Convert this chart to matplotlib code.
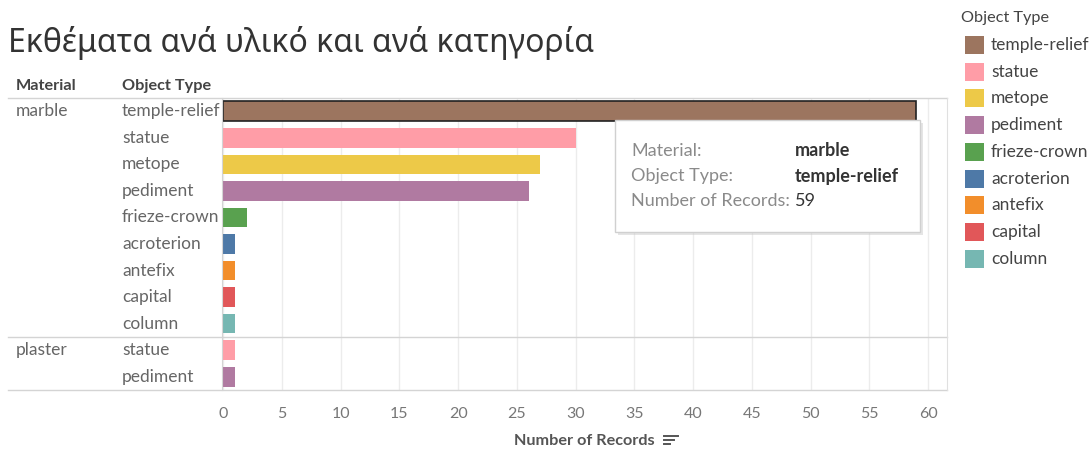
import matplotlib.pyplot as plt
from matplotlib.patches import Rectangle
from matplotlib.lines import Line2D
from matplotlib.transforms import blended_transform_factory

plt.rcParams['font.family'] = ['Lato', 'Noto Sans', 'DejaVu Sans']

# data
materials = ['marble'] * 9 + ['plaster'] * 2
object_types = ['temple-relief', 'statue', 'metope', 'pediment', 'frieze-crown',
                'acroterion', 'antefix', 'capital', 'column', 'statue', 'pediment']
records = [59, 30, 27, 26, 2, 1, 1, 1, 1, 1, 1]

legend_types = ['temple-relief', 'statue', 'metope', 'pediment', 'frieze-crown',
                'acroterion', 'antefix', 'capital', 'column']
type_colors = {
    'temple-relief': '#9C755F', 'statue': '#FF9DA7', 'metope': '#EDC948',
    'pediment': '#B07AA1', 'frieze-crown': '#59A14F', 'acroterion': '#4E79A7',
    'antefix': '#F28E2B', 'capital': '#E15759', 'column': '#76B7B2',
}

W, H = 1091, 450
fig = plt.figure(figsize=(W / 100, H / 100), dpi=100)
ax = fig.add_axes([222 / W, 1 - 390 / H, (947 - 222) / W, (390 - 98) / H])

ypos = list(range(len(records)))
colors = [type_colors[t] for t in object_types]
bars = ax.barh(ypos, records, height=0.74, color=colors)
bars[0].set_edgecolor('#222222')
bars[0].set_linewidth(1.2)

ax.set_xlim(-0.1, 61.6)
ax.set_ylim(len(records) - 0.5, -0.5)
ax.set_xticks(range(0, 61, 5))
ax.tick_params(axis='x', length=0, pad=12, labelsize=11.5, labelcolor='#777777')
ax.set_yticks([])
ax.grid(axis='x', color='#ececec', linewidth=1)
ax.set_axisbelow(True)
for s in ['top', 'bottom']:
    ax.spines[s].set_visible(False)
ax.spines['left'].set_color('#d4d4d4')
ax.spines['right'].set_color('#e0e0e0')

# row separators spanning header columns
x0 = -(222 - 8) / (947 - 222)
for y in [-0.5, 8.5, 10.5]:
    ax.axhline(y, xmin=x0, xmax=1, color='#d4d4d4', linewidth=1, clip_on=False)

# row headers
row_tr = blended_transform_factory(fig.transFigure, ax.transData)
prev = None
for i, (m, t) in enumerate(zip(materials, object_types)):
    ax.text(122 / W, i, t, transform=row_tr, ha='left', va='center',
            fontsize=12.5, color='#666666')
    if m != prev:
        ax.text(16 / W, i, m, transform=row_tr, ha='left', va='center',
                fontsize=12.5, color='#666666')
    prev = m

fig.text(16 / W, 1 - 86 / H, 'Material', fontsize=11.7, fontweight='bold', color='#444444', va='center')
fig.text(122 / W, 1 - 86 / H, 'Object Type', fontsize=11.7, fontweight='bold', color='#444444', va='center')

# title
fig.text(8 / W, 1 - 43 / H, 'Εκθέματα ανά υλικό και ανά κατηγορία', fontsize=23,
         color='#333333', va='center', family=['Noto Sans', 'DejaVu Sans'])

# axis title + sort icon
fig.text(584 / W, 1 - 441 / H, 'Number of Records', fontsize=11.7, fontweight='bold',
         color='#555555', ha='center', va='center')
for k, w in enumerate([14, 10, 6]):
    yy = 1 - (436 + k * 4) / H
    fig.add_artist(Line2D([664 / W, (664 + w) / W], [yy, yy], color='#555555', linewidth=1.4))

# legend
fig.text(961 / W, 1 - 18 / H, 'Object Type', fontsize=11.7, color='#444444', va='center')
for i, t in enumerate(legend_types):
    yc = 45 + i * 26.7
    fig.patches.append(Rectangle((965 / W, 1 - (yc + 9) / H), 19 / W, 18 / H,
                                 transform=fig.transFigure, facecolor=type_colors[t],
                                 edgecolor='none'))
    fig.text(991 / W, 1 - yc / H, t, fontsize=12.5, color='#444444', va='center')

# tooltip
fig.patches.append(Rectangle((618 / W, 1 - 235 / H), 305 / W, 112 / H, transform=fig.transFigure,
                             facecolor='#cccccc', edgecolor='none', alpha=0.5, zorder=5))
fig.patches.append(Rectangle((615 / W, 1 - 232 / H), 305 / W, 112 / H, transform=fig.transFigure,
                             facecolor='white', edgecolor='#d0d0d0', linewidth=1, zorder=6))
tip_rows = [('Material:', 'marble'), ('Object Type:', 'temple-relief'),
            ('Number of Records:', '59')]
for i, (k, v) in enumerate(tip_rows):
    yy = 1 - (151 + i * 25) / H
    fig.text(631 / W, yy, k, fontsize=13, color='#8a8a8a', va='center', zorder=7)
    fig.text(795 / W, yy, v, fontsize=13, color='#333333', va='center', zorder=7,
             fontweight='bold' if i < 2 else 'normal')

fig.savefig('out.png', dpi=100)
